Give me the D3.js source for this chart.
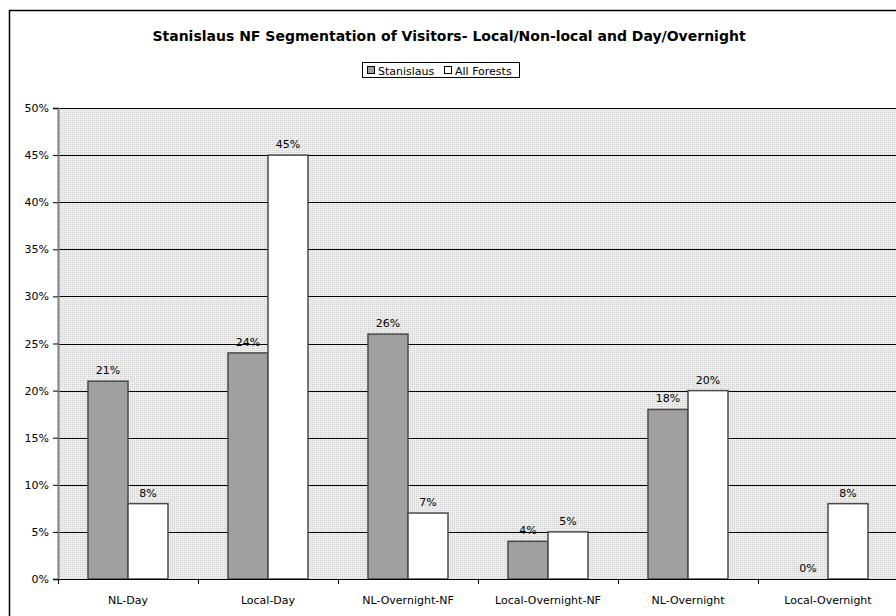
<!DOCTYPE html>
<html>
<head>
<meta charset="utf-8">
<script src="https://cdn.jsdelivr.net/npm/d3@7"></script>
<style>
  html, body { margin: 0; padding: 0; background: #fff; }
  svg { display: block; }
  text { font-family: "DejaVu Sans", Verdana, sans-serif; fill: #000; }
</style>
</head>
<body>
<script>
const categories = ["NL-Day", "Local-Day", "NL-Overnight-NF", "Local-Overnight-NF", "NL-Overnight", "Local-Overnight"];
const seriesNames = ["Stanislaus", "All Forests"];
const stanislaus = [21, 24, 26, 4, 18, 0];
const allForests = [8, 45, 7, 5, 20, 8];
const yTicks = [0, 5, 10, 15, 20, 25, 30, 35, 40, 45, 50];
const titleText = "Stanislaus NF Segmentation of Visitors- Local/Non-local and Day/Overnight";

const W = 896, H = 616;
const svg = d3.select("body").append("svg").attr("width", W).attr("height", H);

const defs = svg.append("defs");
const pat = defs.append("pattern").attr("id", "dots").attr("width", 4).attr("height", 4)
  .attr("patternUnits", "userSpaceOnUse");
pat.append("rect").attr("width", 4).attr("height", 4).attr("fill", "#eeeeee");
pat.append("rect").attr("x", 0).attr("y", 0).attr("width", 1).attr("height", 1).attr("fill", "#c8c8c8");
pat.append("rect").attr("x", 2).attr("y", 2).attr("width", 1).attr("height", 1).attr("fill", "#c8c8c8");
pat.append("rect").attr("x", 2).attr("y", 0).attr("width", 1).attr("height", 1).attr("fill", "#d8d8d8");
pat.append("rect").attr("x", 0).attr("y", 2).attr("width", 1).attr("height", 1).attr("fill", "#d8d8d8");

// Outer chart border
svg.append("rect").attr("x", 9.5).attr("y", 10.5).attr("width", 900).attr("height", 620)
  .attr("fill", "#fff").attr("stroke", "#000").attr("stroke-width", 1.5);

const m = { left: 58, top: 108, right: 898, bottom: 579 };

const x0 = d3.scaleBand().domain(categories).range([m.left, m.right]).paddingInner(0).paddingOuter(0);
const groupPad = 30 / 140;
const x1 = d3.scaleBand().domain(seriesNames).range([x0.bandwidth() * groupPad, x0.bandwidth() * (1 - groupPad)]);
const y = d3.scaleLinear().domain([0, 50]).range([m.bottom, m.top]);

// Plot background
svg.append("rect").attr("x", m.left).attr("y", m.top).attr("width", m.right - m.left).attr("height", m.bottom - m.top)
  .attr("fill", "url(#dots)");

// Gridlines
svg.append("g").selectAll("line").data(yTicks.filter(d => d > 0)).join("line")
  .attr("x1", m.left).attr("x2", m.right)
  .attr("y1", d => Math.round(y(d)) + 0.5).attr("y2", d => Math.round(y(d)) + 0.5)
  .attr("stroke", "#000").attr("stroke-width", 1);

// Bars
const colors = { "Stanislaus": "#a0a0a0", "All Forests": "#ffffff" };
const data = categories.map((c, i) => ({ cat: c, vals: [
  { s: "Stanislaus", v: stanislaus[i] }, { s: "All Forests", v: allForests[i] }] }));

const groups = svg.append("g").selectAll("g").data(data).join("g")
  .attr("transform", d => `translate(${x0(d.cat)},0)`);

groups.selectAll("rect").data(d => d.vals.filter(v => v.v > 0)).join("rect")
  .attr("x", d => x1(d.s))
  .attr("y", d => y(d.v))
  .attr("width", x1.bandwidth())
  .attr("height", d => y(0) - y(d.v))
  .attr("fill", d => colors[d.s])
  .attr("stroke", "#4a4a4a")
  .attr("stroke-width", 1.5);

groups.selectAll("text").data(d => d.vals).join("text")
  .attr("x", d => x1(d.s) + x1.bandwidth() / 2)
  .attr("y", d => y(d.v) - 7)
  .attr("text-anchor", "middle")
  .attr("font-size", 11)
  .text(d => d.v + "%");

// Y axis
const yAxis = d3.axisLeft(y).tickValues(yTicks).tickFormat(d => d + "%").tickSize(5).tickPadding(4);
const gy = svg.append("g").attr("transform", `translate(${m.left},0)`).call(yAxis);
gy.select(".domain").attr("stroke", "#808080").attr("stroke-width", 2);
gy.selectAll(".tick line").attr("stroke", "#000");
gy.selectAll(".tick text").attr("font-size", 11).attr("font-family", "DejaVu Sans, sans-serif").attr("fill", "#000");

// X axis
const gx = svg.append("g").attr("transform", `translate(0,${m.bottom})`);
gx.append("line").attr("x1", m.left).attr("x2", m.right).attr("y1", 0.5).attr("y2", 0.5).attr("stroke", "#000");
const boundaries = categories.map(c => x0(c)).concat([m.right]);
gx.selectAll("line.tk").data(boundaries).join("line").attr("class", "tk")
  .attr("x1", d => d + 0.5).attr("x2", d => d + 0.5).attr("y1", 0).attr("y2", 5).attr("stroke", "#000");
gx.selectAll("text").data(categories).join("text")
  .attr("x", d => x0(d) + x0.bandwidth() / 2)
  .attr("y", 25)
  .attr("text-anchor", "middle")
  .attr("font-size", 11)
  .text(d => d);

// Title
svg.append("text").attr("x", 449).attr("y", 41).attr("text-anchor", "middle")
  .attr("font-size", 14).attr("font-weight", "bold").text(titleText);

// Legend
const lg = svg.append("g");
lg.append("rect").attr("x", 362.5).attr("y", 62.5).attr("width", 157).attr("height", 15)
  .attr("fill", "#fff").attr("stroke", "#000");
const legendItems = [{ s: "Stanislaus", x: 367 }, { s: "All Forests", x: 444 }];
legendItems.forEach(it => {
  lg.append("rect").attr("x", it.x + 0.5).attr("y", 66.5).attr("width", 7).attr("height", 7)
    .attr("fill", colors[it.s]).attr("stroke", "#000");
  lg.append("text").attr("x", it.x + 11).attr("y", 74.5).attr("font-size", 11).text(it.s);
});
</script>
</body>
</html>
